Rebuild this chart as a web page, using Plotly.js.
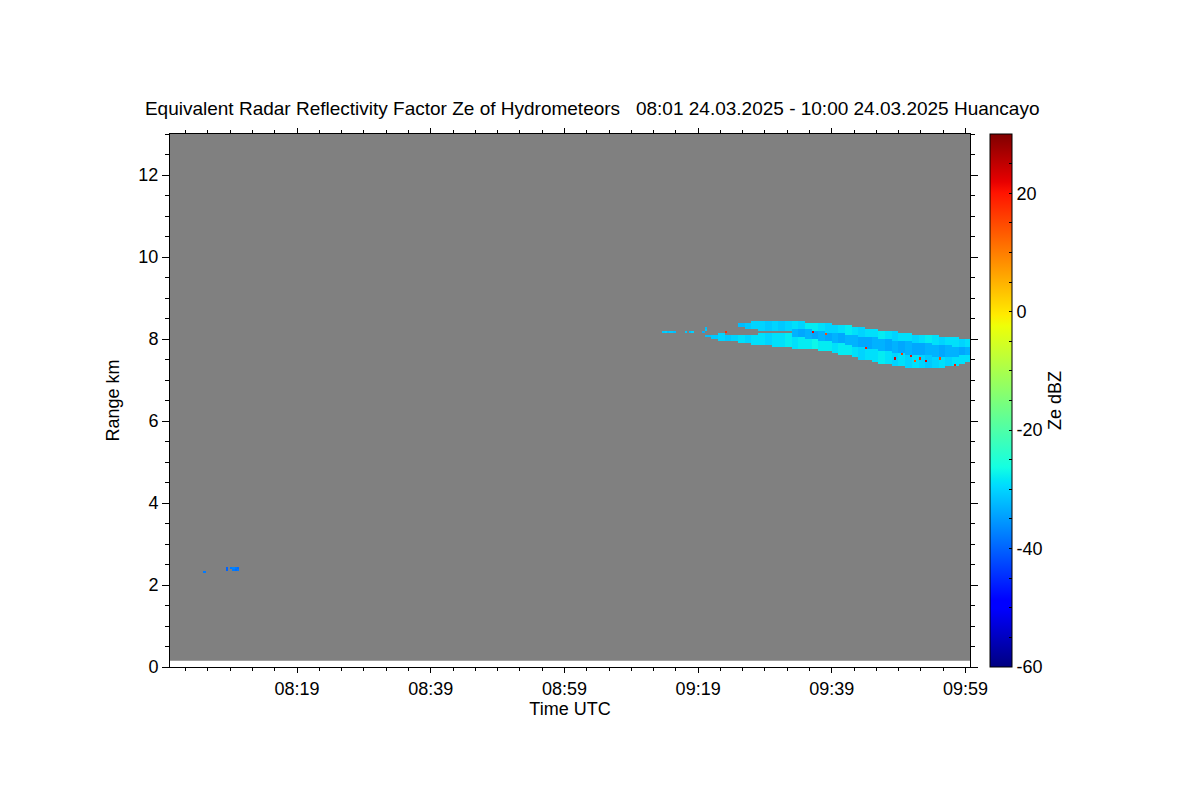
<!DOCTYPE html>
<html><head><meta charset="utf-8">
<script src="https://cdn.plot.ly/plotly-3.0.1.min.js"></script>
<style>html,body{margin:0;padding:0;background:#fff}#chart{width:1200px;height:800px}</style>
</head><body><div id="chart"></div><script>
// ---------- data ----------
const day = '2025-03-24';
const titleText = 'Equivalent Radar Reflectivity Factor Ze of Hydrometeors   08:01 24.03.2025 - 10:00 24.03.2025 Huancayo';

// main cloud band, one entry per minute (start of minute)
const cloudTimes = ['09:20','09:21','09:22','09:23','09:24','09:25','09:26','09:27','09:28','09:29',
                    '09:30','09:31','09:32','09:33','09:34','09:35','09:36','09:37','09:38','09:39',
                    '09:40','09:41','09:42','09:43','09:44','09:45','09:46','09:47','09:48','09:49',
                    '09:50','09:51','09:52','09:53','09:54','09:55','09:56','09:57','09:58','09:59'];
const cloudTopKm = [8.12,8.12,8.13,8.12,8.11,8.10,8.11,8.12,8.13,8.14,
                    8.15,8.16,8.17,8.43,8.43,8.42,8.41,8.40,8.38,8.36,
                    8.35,8.33,8.31,8.28,8.26,8.24,8.22,8.20,8.18,8.16,
                    8.14,8.12,8.11,8.09,8.08,8.07,8.05,8.03,8.01,7.99];
const cloudBaseKm = [8.04,7.98,7.96,7.95,7.93,7.91,7.89,7.87,7.85,7.83,
                     7.82,7.80,7.79,7.77,7.76,7.75,7.73,7.71,7.69,7.66,
                     7.62,7.59,7.56,7.52,7.48,7.44,7.41,7.38,7.35,7.33,
                     7.32,7.31,7.30,7.30,7.29,7.30,7.33,7.36,7.40,7.44];
// slightly darker strand inside the band (null = none)
const strandTopKm = [null,null,null,null,null,null,null,null,null,null,
                     null,null,null,8.25,8.24,8.23,8.21,8.19,8.17,8.15,
                     8.13,8.11,8.09,8.07,8.05,8.03,8.01,7.99,7.97,7.95,
                     7.93,7.91,7.90,7.88,7.86,7.85,7.84,7.82,7.80,7.79];
const strandBaseKm = [null,null,null,null,null,null,null,null,null,null,
                      null,null,null,8.05,8.04,8.02,8.00,7.97,7.94,7.91,
                      7.88,7.85,7.82,7.79,7.76,7.73,7.70,7.68,7.66,7.64,
                      7.62,7.60,7.59,7.58,7.57,7.56,7.56,7.57,7.58,7.60];
const upperZe = [-32,-31,-30,-31,-30,-29,-30,-29,-29,-30,
                 -29,-29,-28,-29,-30,-28,-28,-29,-30,-30,
                 -29,-28,-29,-30,-29,-29,-28,-29,-30,-29,
                 -29,-30,-29,-28,-29,-30,-29,-29,-30,-29];
const strandZe = [null,null,null,null,null,null,null,null,null,null,
                  null,null,null,-33,-34,-33,-34,-33,-34,-33,
                  -34,-33,-33,-34,-34,-33,-33,-34,-33,-34,
                  -33,-34,-34,-33,-33,-34,-33,-33,-34,-33];
const lowerZe = [null,null,null,null,null,null,null,null,null,null,
                 null,null,null,-29,-28,-28,-27,-28,-28,-29,
                 -28,-28,-29,-30,-29,-29,-28,-29,-30,-29,
                 -30,-29,-30,-31,-30,-29,-30,-29,-29,-29];

// separate thin upper layer before it merges with the band
const upperTimes = ['09:25','09:26','09:27','09:28','09:29','09:30','09:31','09:32'];
const upperTopKm = [8.39,8.42,8.44,8.44,8.44,8.44,8.44,8.43];
const upperBaseKm = [8.30,8.25,8.23,8.22,8.22,8.21,8.21,8.20];
const upperLayerZe = [-32,-31,-30,-30,-31,-30,-31,-30];

// isolated echoes (speckles ahead of the band, low echo near 08:10, noise pixels)
const speckleTimes = ['09:13:55','09:14:15','09:14:35','09:14:55','09:15:15','09:15:35','09:17:00','09:17:40','09:18:00','09:19:45','09:20:05','09:20:05'];
const speckleKm = [8.18,8.19,8.18,8.17,8.18,8.18,8.17,8.18,8.18,8.18,8.22,8.28];
const speckleZe = [-31,-30,-32,-31,-31,-32,-31,-32,-30,-33,-31,-32];

const lowTimes = ['08:05:10','08:08:20','08:08:20','08:09:10','08:09:30','08:09:50','08:10:10','08:09:30','08:09:50','08:10:10','08:09:50','08:10:10'];
const lowKm = [2.32,2.44,2.40,2.44,2.44,2.44,2.44,2.40,2.40,2.40,2.36,2.36];
const lowZe = [-38,-40,-40,-38,-37,-38,-39,-38,-36,-38,-39,-38];

const noiseTimes = ['09:23:00','09:36:10','09:38:00','09:44:10','09:48:25','09:49:25','09:50:40','09:52:10','09:53:10','09:55:08','09:57:38','09:51:20'];
const noiseKm = [8.20,8.15,8.12,7.77,7.54,7.61,7.57,7.53,7.49,7.53,7.37,7.45];
const noiseZe = [18,22,15,20,24,17,21,19,23,16,20,14];

const xTickLabels = ['08:19','08:39','08:59','09:19','09:39','09:59'];
const zeTickVals = [-60,-55,-50,-45,-40,-35,-30,-25,-20,-15,-10,-5,0,5,10,15,20,25,30];
const zeTickText = ['-60','','','','-40','','','','-20','','','','0','','','','20','',''];

// ---------- build the grid ----------
const DT = 20;          // seconds per grid column
const NX = 360;         // 08:00 -> 10:00
const DY = 0.05;        // km per grid row
const NY = 260;         // 0 -> 13 km
function secs(s){const p=s.split(':').map(Number);return (p[0]-8)*3600+p[1]*60+(p[2]||0);}
const z = [];
for(let r=0;r<NY;r++) z.push(new Array(NX).fill(null));
function put(c,r,v){ if(c>=0&&c<NX&&r>=0&&r<NY) z[r][c]=v; }

cloudTimes.forEach((t,i)=>{
  const c0 = Math.floor(secs(t)/DT);
  for(let c=c0;c<c0+60/DT;c++){
    for(let r=0;r<NY;r++){
      const y=(r+0.5)*DY;
      if(y>=cloudBaseKm[i] && y<=cloudTopKm[i]){
        let v=upperZe[i];
        if(strandTopKm[i]!==null){
          if(y<strandBaseKm[i]) v=lowerZe[i];
          else if(y<=strandTopKm[i]) v=strandZe[i];
        }
        put(c,r,v);
      }
    }
  }
});
upperTimes.forEach((t,i)=>{
  const c0 = Math.floor(secs(t)/DT);
  for(let c=c0;c<c0+60/DT;c++){
    for(let r=0;r<NY;r++){
      const y=(r+0.5)*DY;
      if(y>=upperBaseKm[i] && y<=upperTopKm[i]) put(c,r,upperLayerZe[i]);
    }
  }
});
function points(times,kms,zes){
  times.forEach((t,i)=>put(Math.floor(secs(t)/DT),Math.floor(kms[i]/DY),zes[i]));
}
points(speckleTimes,speckleKm,speckleZe);
points(lowTimes,lowKm,lowZe);
points(noiseTimes,noiseKm,noiseZe);

const jet = [
  [0,'rgb(0,0,128)'],[0.11,'rgb(0,0,255)'],[0.125,'rgb(0,0,255)'],
  [0.34,'rgb(0,219,255)'],[0.35,'rgb(0,230,247)'],[0.375,'rgb(20,255,226)'],
  [0.5,'rgb(124,255,121)'],[0.64,'rgb(238,255,8)'],[0.66,'rgb(255,236,0)'],
  [0.89,'rgb(255,19,0)'],[0.91,'rgb(232,0,0)'],[1,'rgb(128,0,0)']
];

const fam = '"Liberation Sans", Arial, Helvetica, sans-serif';
const font = {family:fam, size:18, color:'#000'};

const trace = {
  type:'heatmap', z:z,
  x0: day+' 08:00:10', dx: DT*1000,
  y0: DY/2, dy: DY,
  zmin:-60, zmax:30, zsmooth:false,
  colorscale: jet, hoverongaps:false,
  colorbar:{
    x:1.025, xanchor:'left', xpad:0, ypad:0, y:0.5, yanchor:'middle',
    len:1, lenmode:'fraction', thickness:22, thicknessmode:'pixels',
    outlinewidth:1, outlinecolor:'#000',
    tickmode:'array', tickvals:zeTickVals, ticktext:zeTickText,
    ticks:'inside', ticklen:3, tickcolor:'#000', tickfont:font,
    title:{text:'Ze dBZ', side:'right', font:font}
  }
};

const layout = {
  width:1200, height:800, autosize:false,
  margin:{l:170, r:230, t:134, b:133, pad:0},
  paper_bgcolor:'#fff', plot_bgcolor:'#808080',
  font:font, showlegend:false,
  title:{text:titleText, font:{family:fam, size:19, color:'#000'}, x:0.4935, xref:'container', xanchor:'center', y:0.865, yref:'container', yanchor:'middle'},
  xaxis:{
    type:'date', range:[day+' 08:00:00', day+' 09:59:40'],
    tickmode:'array', tickvals:xTickLabels.map(s=>day+' '+s), ticktext:xTickLabels,
    ticks:'outside', ticklen:5, tickwidth:1, tickcolor:'#000',
    minor:{ticks:'outside', ticklen:3, tickcolor:'#000', dtick:200000, tick0:day+' 08:19', showgrid:false},
    showline:true, linecolor:'#000', linewidth:1, mirror:'ticks',
    showgrid:false, zeroline:false, tickfont:font,
    title:{text:'Time UTC', font:font, standoff:2}
  },
  yaxis:{
    range:[0,13], tickmode:'linear', tick0:0, dtick:2,
    ticks:'outside', ticklen:7, tickwidth:1, tickcolor:'#000',
    minor:{ticks:'outside', ticklen:4, tickcolor:'#000', dtick:0.5, tick0:0, showgrid:false},
    showline:true, linecolor:'#000', linewidth:1, mirror:'ticks',
    showgrid:false, zeroline:false, tickfont:font,
    title:{text:'Range km', font:font, standoff:14}
  },
  shapes:[{type:'rect', xref:'paper', x0:0, x1:1, yref:'y', y0:0, y1:0.15, fillcolor:'#fff', line:{width:0}, layer:'below'}]
};

Plotly.newPlot('chart',[trace],layout,{displayModeBar:false, staticPlot:true});
</script></body></html>
